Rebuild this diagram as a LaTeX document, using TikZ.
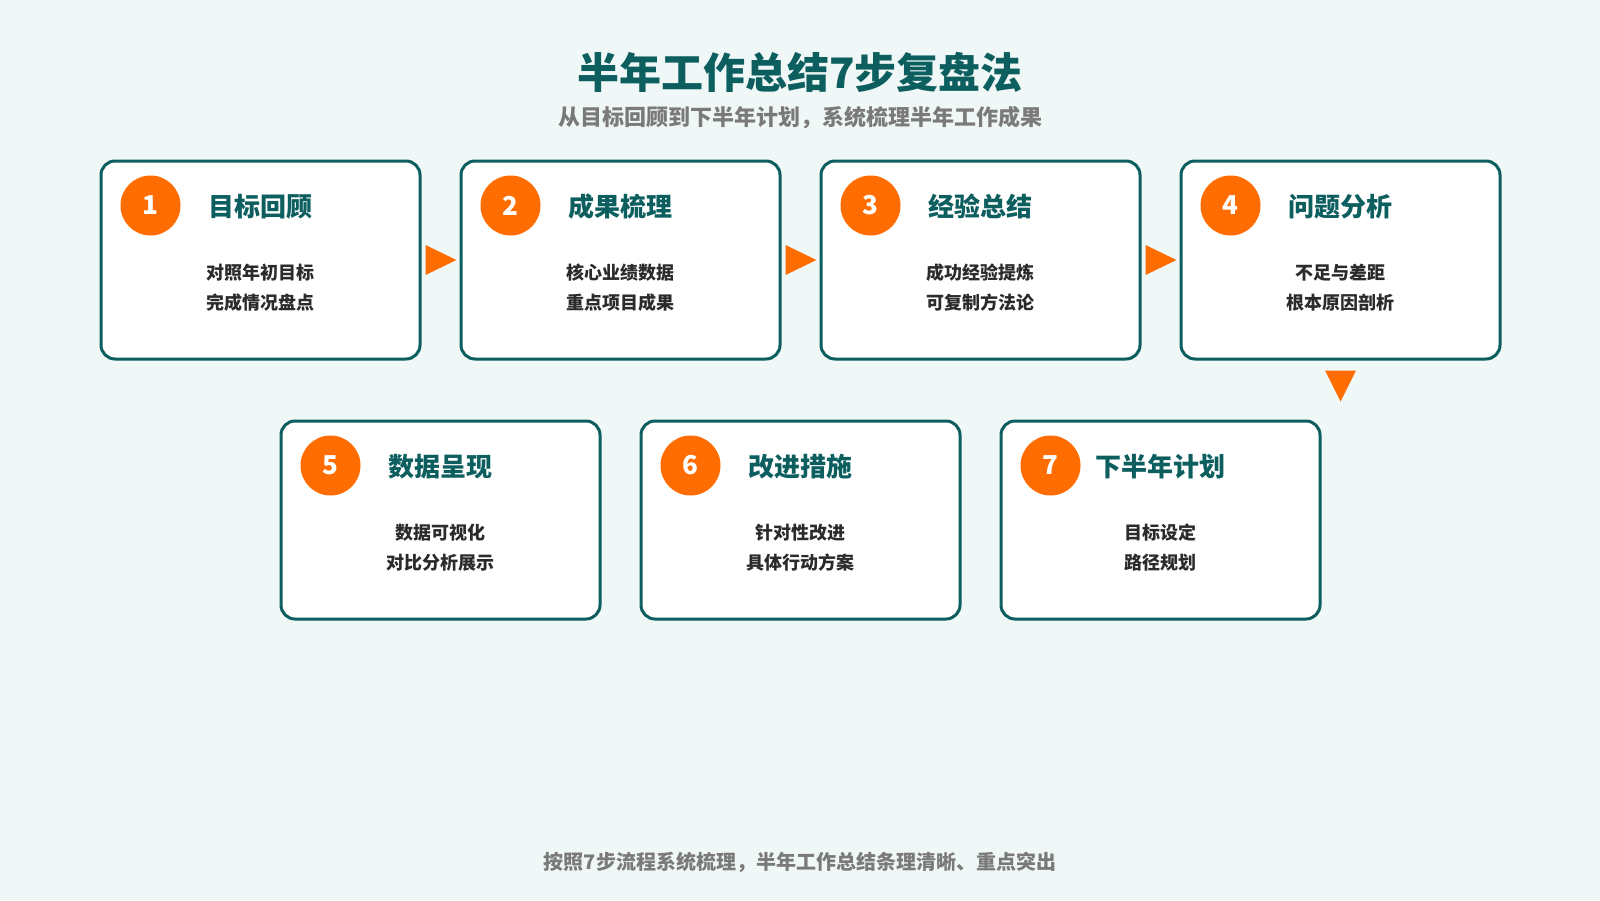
\documentclass[tikz,border=0pt]{standalone}
\usepackage{fontspec}
\setmainfont{Noto Sans CJK SC}
\usetikzlibrary{calc}
\definecolor{bgc}{HTML}{F0F8F7}
\definecolor{teal}{HTML}{0C5E5F}
\definecolor{orng}{HTML}{FF6D00}
\definecolor{txt}{HTML}{2B2B2B}
\definecolor{subg}{HTML}{7A7A7A}
\tikzset{
  stepbox/.style={draw=teal, line width=3pt, fill=white, rounded corners=14pt,
    minimum width=319pt, minimum height=198pt, inner sep=0pt},
  numc/.style={circle, fill=orng, minimum size=60pt, inner sep=0pt, text=white,
    font=\fontsize{26}{30}\selectfont\bfseries},
  boxtitle/.style={text=teal, font=\fontsize{26}{30}\selectfont\bfseries, inner sep=0pt},
  desc/.style={text=txt, align=center, font=\fontsize{18}{30}\selectfont\bfseries, inner sep=0pt},
  tri/.style={fill=orng},
}
\begin{document}
\begin{tikzpicture}[x=1pt,y=-1pt]
\fill[bgc] (0,0) rectangle (1600,900);
\useasboundingbox (0,0) rectangle (1600,900);
\node[text=teal, font=\fontsize{42}{48}\selectfont\bfseries] (title) at (800,72) {半年工作总结7步复盘法};
\node[text=subg, font=\fontsize{22}{26}\selectfont\bfseries] (sub) at (800,118) {从目标回顾到下半年计划，系统梳理半年工作成果};
\node[text=subg, font=\fontsize{20}{24}\selectfont\bfseries] (foot) at (800,862) {按照7步流程系统梳理，半年工作总结条理清晰、重点突出};

\foreach \n/\x/\y/\t/\da/\db in {
  1/260.5/260/目标回顾/对照年初目标/完成情况盘点,
  2/620.5/260/成果梳理/核心业绩数据/重点项目成果,
  3/980.5/260/经验总结/成功经验提炼/可复制方法论,
  4/1340.5/260/问题分析/不足与差距/根本原因剖析,
  5/440.5/520/数据呈现/数据可视化/对比分析展示,
  6/800.5/520/改进措施/针对性改进/具体行动方案,
  7/1160.5/520/下半年计划/目标设定/路径规划}{
  \node[stepbox] (b\n) at (\x,\y) {};
  \node[numc] (c\n) at ($(b\n.north west)+(51,46)$) {\n};
  \node[boxtitle] (t\n) at ($(b\n.north)+(0,47)$) {\t};
  \node[desc] (d\n) at ($(b\n.north)+(0,128)$) {\da\\\db};
}

\foreach \a/\b in {1/2,2/3,3/4}{
  \fill[tri] ($(b\a.east)+(4,-15)$) -- ($(b\a.east)+(35,0)$) -- ($(b\a.east)+(4,15)$) -- cycle;
}
\fill[tri] ($(b4.south)+(-15.5,10)$) -- ($(b4.south)+(15.5,10)$) -- ($(b4.south)+(0,41)$) -- cycle;
\end{tikzpicture}
\end{document}
